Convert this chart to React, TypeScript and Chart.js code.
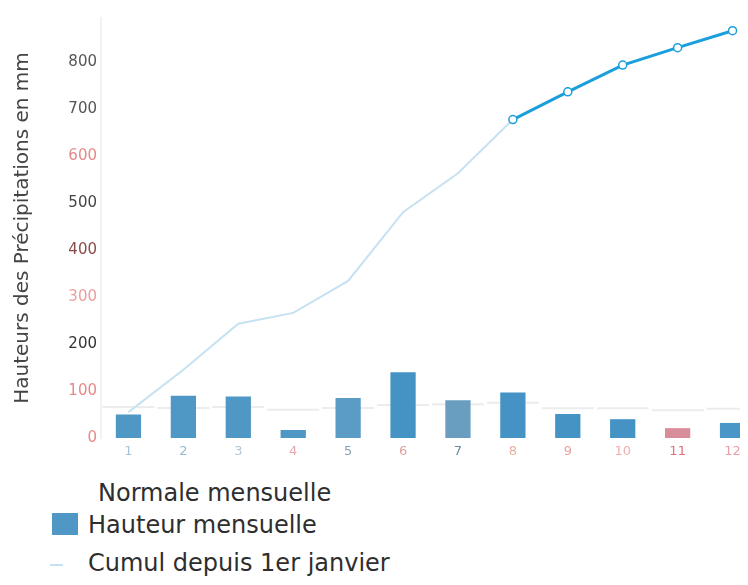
import React, { useEffect, useRef } from 'react';
import { Chart, registerables } from 'chart.js';

Chart.register(...registerables);

const months = ['1', '2', '3', '4', '5', '6', '7', '8', '9', '10', '11', '12'];
const hauteurMensuelle = [50, 90, 88, 17, 85, 140, 80, 97, 51, 40, 21, 32];
const cumulDepuisJanvier = [55, 145, 243, 266, 334, 480, 563, 677, 736, 793, 830, 866];
const normaleMensuelle = [66, 64, 66, 60, 64, 70, 72, 75, 63, 63, 59, 62];
const yAxisMax = 893;
const yTickValues = [0, 100, 200, 300, 400, 500, 600, 700, 800];
const yTitle = 'Hauteurs des Précipitations en mm';
const legendLabels = ['Normale mensuelle', 'Hauteur mensuelle', 'Cumul depuis 1er janvier'];

const barColors = ['#4f97c5', '#4f97c5', '#4f97c5', '#4f97c5', '#5a9cc6', '#4592c4', '#6a9ec0', '#4592c4', '#4592c4', '#4592c4', '#d88e9a', '#4a96c6'];
const yTickColors = ['#e58a8a', '#e58a8a', '#333333', '#e8a0a0', '#8a4a4a', '#444444', '#e58a8a', '#555555', '#555555'];
const xTickColors = ['#a8c4d8', '#98b8cc', '#b0c8d8', '#e8a8b0', '#8aa0b0', '#e0a0a0', '#6a8aa0', '#e8b0a0', '#e8a0a0', '#f0b0b0', '#e07080', '#e8a0a8'];

export default function App() {
  const canvasRef = useRef<HTMLCanvasElement | null>(null);

  useEffect(() => {
    const canvas = canvasRef.current;
    if (!canvas) return;
    const chart = new Chart(canvas, {
      type: 'bar',
      data: {
        labels: months,
        datasets: [
          {
            type: 'line',
            label: legendLabels[0],
            data: normaleMensuelle,
            showLine: false,
            pointStyle: 'line',
            pointRadius: 26,
            pointBorderWidth: 2,
            pointBorderColor: '#ececec',
            pointBackgroundColor: '#ececec',
            order: 3,
          } as any,
          {
            type: 'bar',
            label: legendLabels[1],
            data: hauteurMensuelle,
            backgroundColor: barColors,
            borderWidth: 0,
            categoryPercentage: 1,
            barPercentage: 0.46,
            order: 2,
          },
          {
            type: 'line',
            label: legendLabels[2],
            data: cumulDepuisJanvier,
            borderColor: '#c6e2f2',
            borderWidth: 2,
            tension: 0,
            pointRadius: (ctx: any) => (ctx.dataIndex >= 7 ? 4 : 0),
            pointBackgroundColor: '#ffffff',
            pointBorderColor: '#1a9fdc',
            pointBorderWidth: 1.5,
            segment: {
              borderColor: (ctx: any) => (ctx.p0DataIndex >= 7 ? '#1a9fdc' : '#c6e2f2'),
              borderWidth: (ctx: any) => (ctx.p0DataIndex >= 7 ? 3 : 2),
            },
            order: 1,
          } as any,
        ],
      },
      options: {
        animation: false,
        responsive: false,
        maintainAspectRatio: false,
        layout: { autoPadding: false, padding: { top: 0, left: 0, right: 0, bottom: 0 } },
        plugins: { legend: { display: false }, tooltip: { enabled: false } },
        scales: {
          x: {
            grid: { display: false, drawTicks: false },
            border: { display: false },
            ticks: {
              padding: 6,
              color: xTickColors,
              font: { family: 'DejaVu Sans', size: 13 },
              maxRotation: 0,
            },
            afterFit: (scale: any) => {
              scale.height = 30;
            },
          },
          y: {
            min: 0,
            max: yAxisMax,
            grid: { display: false, drawTicks: false },
            border: { display: true, color: '#eef3f8', width: 2 },
            afterBuildTicks: (scale: any) => {
              scale.ticks = yTickValues.map((v) => ({ value: v }));
            },
            ticks: {
              padding: 4,
              color: yTickColors,
              font: { family: 'DejaVu Sans', size: 15, lineHeight: 0.8 },
              callback: (v: any) => String(v),
            },
            title: {
              display: true,
              text: yTitle,
              color: '#444444',
              font: { family: 'DejaVu Sans', size: 20 },
              padding: { top: 3, bottom: 4 },
            },
            afterFit: (scale: any) => {
              scale.width = 93;
            },
          },
        },
      },
    });
    return () => chart.destroy();
  }, []);

  const textStyle: React.CSSProperties = {
    position: 'absolute',
    fontFamily: 'DejaVu Sans',
    fontSize: 24,
    color: '#2e2e2e',
    lineHeight: '28px',
    whiteSpace: 'nowrap',
  };

  return (
    <div style={{ position: 'relative', width: 740, height: 577, overflow: 'hidden' }}>
      <canvas
        ref={canvasRef}
        width={752}
        height={460}
        style={{ width: 752, height: 460, display: 'block' }}
      />
      <div style={{ ...textStyle, left: 90, top: 471 }}>{legendLabels[0]}</div>
      <div
        style={{
          position: 'absolute',
          left: 44,
          top: 505,
          width: 26,
          height: 22,
          background: '#4f97c5',
        }}
      />
      <div style={{ ...textStyle, left: 80, top: 503 }}>{legendLabels[1]}</div>
      <div
        style={{
          position: 'absolute',
          left: 42,
          top: 556,
          width: 13,
          height: 2,
          background: '#c6e2f2',
        }}
      />
      <div style={{ ...textStyle, left: 80, top: 541 }}>{legendLabels[2]}</div>
    </div>
  );
}
